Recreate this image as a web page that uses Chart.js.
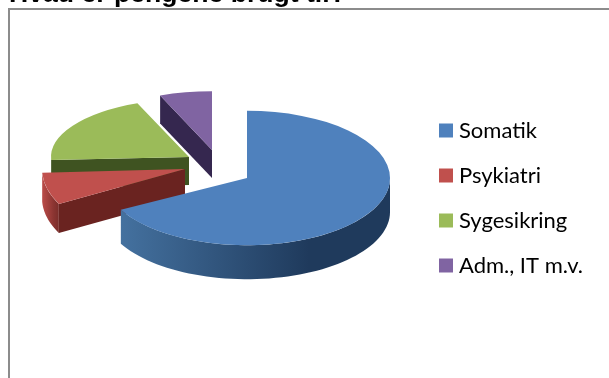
<!DOCTYPE html>
<html>
<head>
<meta charset="utf-8">
<title>Hvad er pengene brugt til?</title>
<script src="https://cdn.jsdelivr.net/npm/chart.js@4"></script>
<style>
    html, body { margin: 0; padding: 0; background: #fff; overflow: hidden; }
    #frame { position: absolute; left: 8px; top: 8px; width: 620px; height: 400px; border: 2px solid #8c8c8c; }
    #wrap { position: absolute; left: 0; top: 0; width: 609px; height: 378px; }
</style>
</head>
<body>
<div id="frame"></div>
<div id="wrap"><canvas id="pieChart"></canvas></div>
<script>
var categories = ['Somatik', 'Psykiatri', 'Sygesikring', 'Adm., IT m.v.'];
var shares = [67.2, 7, 19.7, 6.1];

var topColors = ['#4f81bd', '#c0504d', '#9bbb59', '#8064a2'];
var edgeColors = ['#1f3a5c', '#6a2320', '#3f5321', '#35274f'];
// rim wall gradient, left to right
var rimColors = [['#44719f', '#1f3a5c', '#1f3a5c'], ['#bb4c49', '#8a3431', '#7a2d2a'], ['#3f5321', '#3f5321', '#3f5321'], ['#35274f', '#35274f', '#35274f']];

// 3d look of the pie
var pieX = 222, pieY = 168;
var moveX = [25, -37, -33, -10];
var moveY = [10, 1, -11, -18];
var squash = [0.47, 0.52, 0.42, 0.424];
var widen = [1, 1, 0.965, 0.97];
var depth = [34, 29, 28, 28];

function drawSlice(ctx, arc, i) {
    var sx = pieX + moveX[i], sy = pieY + moveY[i];
    var r = arc.outerRadius * widen[i];
    var start = arc.startAngle, end = arc.endAngle;

    function px(a) { return sx + r * Math.cos(a); }
    function py(a) { return sy + r * squash[i] * Math.sin(a); }

    // flat wall along the leading cut
    ctx.fillStyle = edgeColors[i];
    ctx.beginPath();
    ctx.moveTo(sx, sy);
    ctx.lineTo(px(start), py(start));
    ctx.lineTo(px(start), py(start) + depth[i]);
    ctx.lineTo(sx, sy + depth[i]);
    ctx.closePath();
    ctx.fill();

    // curved wall, only the part facing the front
    var from = Math.max(start, 0), to = Math.min(end, Math.PI);
    if (to > from) {
        var grad = ctx.createLinearGradient(px(to), 0, px(from), 0);
        grad.addColorStop(0, rimColors[i][0]);
        grad.addColorStop(0.7, rimColors[i][1]);
        grad.addColorStop(1, rimColors[i][2]);
        ctx.fillStyle = grad;
        ctx.beginPath();
        var n = 60, k, a;
        for (k = 0; k <= n; k++) {
            a = from + (to - from) * k / n;
            ctx.lineTo(px(a), py(a));
        }
        for (k = n; k >= 0; k--) {
            a = from + (to - from) * k / n;
            ctx.lineTo(px(a), py(a) + depth[i]);
        }
        ctx.closePath();
        ctx.fill();
    }

    // top face is the chart's own arc, flattened
    ctx.save();
    ctx.translate(sx, sy);
    ctx.scale(widen[i], widen[i] * squash[i]);
    ctx.translate(-arc.x, -arc.y);
    arc.draw(ctx);
    ctx.restore();
}

var tiltedPie = {
    id: 'tiltedPie',
    beforeDatasetsDraw: function(chart) {
        var arcs = chart.getDatasetMeta(0).data;
        // back slices first
        for (var i = arcs.length - 1; i >= 0; i--) {
            drawSlice(chart.ctx, arcs[i], i);
        }
        return false;
    }
};

var ctx = document.getElementById('pieChart').getContext('2d');
var chart = new Chart(ctx, {
    type: 'pie',
    plugins: [tiltedPie],
    data: {
        labels: categories,
        datasets: [{
            data: shares,
            backgroundColor: topColors,
            borderWidth: 0
        }]
    },
    options: {
        responsive: true,
        maintainAspectRatio: false,
        animation: false,
        radius: 143,
        layout: { padding: { left: 9, right: 16, top: 0, bottom: -18 } },
        plugins: {
            tooltip: { enabled: false },
            title: {
                display: true,
                text: 'Hvad er pengene brugt til?',
                align: 'start',
                color: '#000',
                font: { family: 'Liberation Sans', size: 26.6, weight: 'bold', lineHeight: 1 },
                padding: { top: -19, bottom: 19 }
            },
            legend: {
                position: 'right',
                labels: {
                    font: { family: 'Lato', size: 22 },
                    color: '#111',
                    boxWidth: 4,
                    boxHeight: 4,
                    padding: 23,
                    // thick same-colour outline keeps the swatch close to its text
                    generateLabels: function(chart) {
                        return categories.map(function(name, i) {
                            return {
                                text: name,
                                fillStyle: topColors[i],
                                strokeStyle: topColors[i],
                                lineWidth: 10,
                                index: i
                            };
                        });
                    }
                }
            }
        }
    }
});
</script>
</body>
</html>
